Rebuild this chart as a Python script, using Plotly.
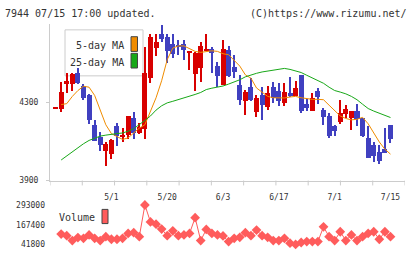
import plotly.graph_objects as go

# ---------------- data ----------------
opens = [4268, 4268, 4395, 4393, 4452, 4382, 4335, 4185, 4123, 4050,
         4035, 4177, 4125, 4133, 4220, 4142, 4165, 4422, 4577, 4648,
         4635, 4598, 4593, 4598, 4553, 4447, 4477, 4560, 4572, 4485,
         4388, 4565, 4480, 4390, 4305, 4380, 4252, 4335, 4277, 4377,
         4360, 4297, 4347, 4330, 4440, 4290, 4257, 4360, 4260, 4230,
         4177, 4197, 4240, 4218, 4255, 4218, 4118, 4080, 4048, 4060,
         4185]
highs = [4272, 4402, 4450, 4452, 4477, 4393, 4340, 4207, 4147, 4095,
         4110, 4193, 4170, 4230, 4252, 4195, 4580, 4647, 4647, 4693,
         4647, 4648, 4618, 4618, 4558, 4555, 4610, 4648, 4580, 4507,
         4618, 4590, 4540, 4440, 4363, 4423, 4335, 4377, 4385, 4402,
         4397, 4397, 4430, 4410, 4440, 4318, 4347, 4372, 4273, 4243,
         4185, 4310, 4285, 4255, 4290, 4218, 4180, 4098, 4080, 4168,
         4185]
lows = [4266, 4252, 4345, 4360, 4393, 4313, 4187, 4100, 4050, 3972,
        4008, 4077, 4095, 4110, 4110, 4140, 4113, 4397, 4535, 4610,
        4502, 4527, 4543, 4518, 4465, 4357, 4402, 4560, 4452, 4380,
        4388, 4430, 4423, 4285, 4235, 4305, 4227, 4207, 4260, 4297,
        4280, 4280, 4327, 4330, 4247, 4257, 4257, 4290, 4185, 4115,
        4130, 4190, 4222, 4160, 4180, 4123, 4013, 3997, 3982, 4040,
        4090]
closes = [4270, 4355, 4410, 4443, 4397, 4322, 4210, 4103, 4082, 4087,
          4107, 4130, 4135, 4228, 4143, 4172, 4452, 4632, 4610, 4622,
          4563, 4548, 4585, 4568, 4557, 4552, 4590, 4572, 4552, 4435,
          4572, 4435, 4457, 4313, 4352, 4313, 4322, 4285, 4347, 4322,
          4305, 4355, 4330, 4372, 4257, 4273, 4323, 4327, 4227, 4127,
          4155, 4243, 4265, 4255, 4213, 4130, 4013, 4027, 4002, 4040,
          4110]
ma5 = [None, 4288, 4293, 4330, 4360, 4382, 4377, 4335, 4260, 4185,
       4140, 4127, 4110, 4118, 4143, 4168, 4185, 4252, 4323, 4410,
       4518, 4577, 4588, 4588, 4573, 4560, 4555, 4560, 4563, 4560,
       4548, 4543, 4513, 4485, 4440, 4423, 4373, 4352, 4330, 4323,
       4322, 4322, 4327, 4330, 4323, 4318, 4315, 4315, 4313, 4285,
       4260, 4230, 4217, 4210, 4213, 4223, 4190, 4143, 4097, 4060,
       4035]
ma25 = [None, 4005, 4027, 4048, 4068, 4088, 4105, 4118, 4127, 4132,
        4137, 4140, 4143, 4152, 4165, 4185, 4207, 4230, 4260, 4282,
        4297, 4305, 4313, 4323, 4330, 4340, 4350, 4365, 4372, 4377,
        4383, 4393, 4403, 4415, 4430, 4440, 4448, 4455, 4460, 4465,
        4468, 4473, 4468, 4460, 4452, 4438, 4425, 4413, 4397, 4377,
        4360, 4352, 4343, 4330, 4313, 4290, 4268, 4255, 4243, 4230,
        4222]
volume = [None, 108000, 97700, 66500, 85200, 81000, 101900, 81000, 66500, 91500,
          74800, 74800, 81000, 112000, 116400, 91500, 293000, 185000, 170400, 139300,
          97700, 128900, 97700, 101900, 112000, 212000, 66500, 137200, 112000, 101900,
          95600, 60300, 81000, 87300, 116400, 97700, 133000, 97700, 87300, 66500,
          66500, 81000, 49900, 41800, 54100, 60300, 60300, 60300, 153800, 91500,
          66500, 122600, 66500, 101900, 66500, 91500, 112000, 122600, 74800, 122600,
          91500]
tick_pos = [11, 21, 31, 41, 51, 61]
tick_labels = ["5/1", "5/20", "6/3", "6/17", "7/1", "7/15"]
price_ticks = [3900, 4300]
price_tick_text = ["3900", "4300"]
vol_ticks = [41800, 167400, 293000]
vol_tick_text = ["41800", "167400", "293000"]

# ---------------- styling / layout helpers ----------------
W, H = 420, 259
ML, MR, MT, MB = 50, 15, 24, 4
PW, PH = W - ML - MR, H - MT - MB


def px_x(X):
    return (X - ML) / PW


def px_y(Y):
    return (H - MB - Y) / PH


RED = "#d80000"
BLUE = "#4040c0"
ORANGE = "#f08c00"
GREEN = "#18a818"
VOLC = "#ff5c5c"
FONT = "DejaVu Sans Mono"
TXT = "#333333"

n = len(opens)
x = list(range(1, n + 1))
colors = [RED if c >= o else BLUE for o, c in zip(opens, closes)]

fig = go.Figure()

# wicks
fig.add_trace(go.Bar(
    x=x, base=lows, y=[h - l for h, l in zip(highs, lows)], width=0.2,
    marker=dict(color=colors, line=dict(width=0)), hoverinfo="skip",
    xaxis="x", yaxis="y", showlegend=False))
# bodies
fig.add_trace(go.Bar(
    x=x, base=[min(o, c) for o, c in zip(opens, closes)],
    y=[max(abs(c - o), 6) for o, c in zip(opens, closes)], width=0.9,
    marker=dict(color=colors, line=dict(width=0)),
    xaxis="x", yaxis="y", showlegend=False))
# moving averages
fig.add_trace(go.Scatter(x=x, y=ma5, mode="lines", line=dict(color=ORANGE, width=1),
                         xaxis="x", yaxis="y", showlegend=False))
fig.add_trace(go.Scatter(x=x, y=ma25, mode="lines", line=dict(color=GREEN, width=1),
                         xaxis="x", yaxis="y", showlegend=False))
# volume
fig.add_trace(go.Scatter(x=x, y=volume, mode="lines+markers",
                         line=dict(color=VOLC, width=1),
                         marker=dict(symbol="diamond", size=7.5, color=VOLC),
                         xaxis="x2", yaxis="y2", showlegend=False))

XMAX = 63.6
shapes = []
# bottom tick marks
for k in range(12):
    xv = k * XMAX / 11
    shapes.append(dict(type="line", xref="x", yref="paper", x0=xv, x1=xv,
                       y0=px_y(189), y1=px_y(184), line=dict(color="#cccccc", width=1)))
# MA legend box
shapes.append(dict(type="rect", xref="paper", yref="paper", layer="below",
                   x0=px_x(65), x1=px_x(143), y0=px_y(77), y1=px_y(30),
                   line=dict(color="#cccccc", width=1), fillcolor="white"))
shapes.append(dict(type="rect", xref="paper", yref="paper",
                   x0=px_x(131), x1=px_x(137.5), y0=px_y(52), y1=px_y(37),
                   line=dict(color="#444444", width=1), fillcolor=ORANGE))
shapes.append(dict(type="rect", xref="paper", yref="paper",
                   x0=px_x(131), x1=px_x(137.5), y0=px_y(69), y1=px_y(54),
                   line=dict(color="#444444", width=1), fillcolor=GREEN))
# volume legend swatch
shapes.append(dict(type="rect", xref="paper", yref="paper",
                   x0=px_x(102), x1=px_x(108), y0=px_y(228), y1=px_y(213.5),
                   line=dict(color="#444444", width=1), fillcolor=VOLC))

annotations = [
    dict(text="7944 07/15 17:00 updated.", x=px_x(3), y=px_y(13), xref="paper", yref="paper",
         xanchor="left", yanchor="middle", showarrow=False, font=dict(family=FONT, size=10, color=TXT)),
    dict(text="(C)https://www.rizumu.net/", x=px_x(409), y=px_y(13), xref="paper", yref="paper",
         xanchor="right", yanchor="middle", showarrow=False, font=dict(family=FONT, size=10, color=TXT)),
    dict(text="5-day MA", x=px_x(126), y=px_y(46), xref="paper", yref="paper",
         xanchor="right", yanchor="middle", showarrow=False, font=dict(family=FONT, size=10, color=TXT)),
    dict(text="25-day MA", x=px_x(126), y=px_y(63.5), xref="paper", yref="paper",
         xanchor="right", yanchor="middle", showarrow=False, font=dict(family=FONT, size=10, color=TXT)),
    dict(text="Volume", x=px_x(57), y=px_y(222), xref="paper", yref="paper",
         xanchor="left", yanchor="middle", showarrow=False, font=dict(family=FONT, size=10, color=TXT)),
]

tickfont = dict(family=FONT, size=8, color=TXT)
fig.update_layout(
    width=W, height=H, autosize=False,
    margin=dict(l=ML, r=MR, t=MT, b=MB, pad=0),
    paper_bgcolor="white", plot_bgcolor="white",
    barmode="overlay", bargap=0,
    showlegend=False,
    shapes=shapes, annotations=annotations,
    xaxis=dict(domain=[0, 1], anchor="y", range=[0, XMAX], showgrid=False, zeroline=False,
               showline=True, linecolor="#cccccc", linewidth=1,
               tickmode="array", tickvals=tick_pos, ticktext=tick_labels, ticks="",
               tickfont=tickfont, ticklabelstandoff=9),
    yaxis=dict(domain=[px_y(184), 1], range=[3900, 4700], showgrid=False, zeroline=False,
               showline=True, linecolor="#cccccc", linewidth=1,
               tickmode="array", tickvals=price_ticks, ticktext=price_tick_text,
               ticks="outside", ticklen=3, tickcolor="#cccccc",
               tickfont=tickfont, ticklabelstandoff=6),
    xaxis2=dict(domain=[0, 1], anchor="y2", matches="x", range=[0, XMAX], visible=False),
    yaxis2=dict(domain=[0, px_y(203)], range=[6272, 330400], showgrid=False, zeroline=False,
                showline=False, tickmode="array", tickvals=vol_ticks, ticktext=vol_tick_text,
                ticks="", tickfont=tickfont, ticklabelstandoff=4),
)

fig.write_html("out.html")
